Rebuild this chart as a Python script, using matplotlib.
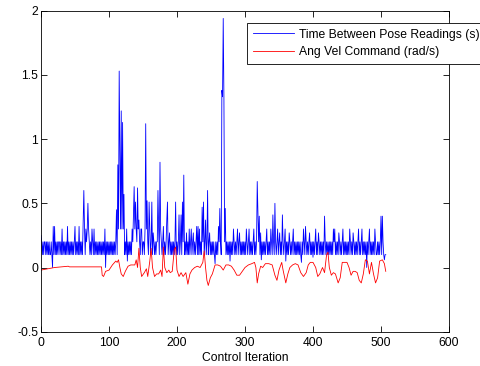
import matplotlib
matplotlib.use("Agg")
import matplotlib.pyplot as plt
import numpy as np

# Time between pose readings (s), one value per control iteration
pose_dt = [
    .25, .2, .1, .2, .1, .2, .2, .1, .2, .1, .2, .1, .2, .1, .1, .2, .1, .0, .32, .1,
    .32, .1, .2, .1, .2, .1, .2, .2, .1, .2, .1, .3, .1, .2, .1, .2, .1, .2, .1, .32,
    .1, .2, .1, .2, .1, .2, .1, .2, .1, .2, .32, .1, .2, .1, .2, .1, .32, .1, .2, .1,
    .2, .1, .35, .6, .3, .1, .3, .2, .3, .5, .3, .2, .1, .2, .1, .3, .2, .1, .3, .1,
    .2, .1, .2, .1, .2, .1, .2, .1, .2, .1, .2, .1, .2, .1, .3, .0, .2, .1, .2, .1,
    .2, .1, .2, .1, .2, .1, .2, .1, .2, .1, .2, .45, .1, .8, .3, 1.53, .91, .3, 1.22, .3,
    1.13, .3, .57, .1, .2, .1, .3, .05, .2, .1, .2, .1, .2, .1, .3, .2, .4, .63, .3, .51,
    .3, .2, .62, .3, .37, .2, .1, .3, .3, .1, .2, .2, .1, .3, 1.12, .3, .52, .2, .1, .51,
    .3, .1, .2, .51, .1, .27, .2, .1, .2, .1, .2, .2, .6, .3, .1, .82, .3, .2, .1, .2,
    .32, .1, .2, .1, .2, .37, .51, .1, .2, .27, .1, .2, .1, .2, .1, .2, .1, .2, .51, .1,
    .2, .1, .2, .41, .1, .2, .41, .1, .51, .2, .72, .1, .2, .1, .27, .1, .2, .1, .3, .1,
    .2, .3, .1, .2, .27, .1, .2, .1, .2, .32, .1, .32, .1, .3, .1, .2, .1, .47, .2, .51,
    .1, .2, .37, .1, .2, .6, .1, .2, .27, .1, .2, .1, .2, .1, .2, .1, .03, .2, .1, .2,
    .1, .32, .2, .46, .2, .1, 1.38, 1.33, 1.94, 1.33, .2, .46, .1, .2, .1, .2, .1, .2, .05, .2,
    .1, .2, .1, .3, .2, .1, .2, .1, .2, .3, .1, .2, .27, .1, .2, .1, .2, .1, .2, .1,
    .2, .1, .3, .2, .1, .2, .3, .1, .2, .1, .2, .1, .2, .3, .1, .2, .1, .2, .67, .45,
    .2, .4, .1, .27, .06, .2, .1, .2, .1, .2, .1, .2, .3, .1, .2, .1, .2, .1, .3, .2,
    .1, .41, .2, .1, .5, .2, .1, .2, .3, .1, .2, .27, .1, .2, .1, .41, .2, .1, .2, .3,
    .05, .2, .1, .2, .1, .27, .2, .1, .2, .1, .2, .3, .1, .2, .1, .2, .1, .2, .1, .2,
    .1, .2, .1, .04, .2, .1, .3, .2, .1, .32, .2, .1, .2, .1, .2, .27, .1, .2, .1, .2,
    .08, .2, .1, .2, .3, .1, .2, .1, .27, .2, .1, .2, .1, .2, .1, .2, .1, .4, .2, .1,
    .2, .1, .2, .1, .2, .1, .2, .1, .2, .1, .3, .2, .3, .1, .2, .1, .2, .1, .27, .2,
    .1, .2, .1, .2, .3, .1, .2, .1, .2, .1, .2, .1, .2, .1, .3, .2, .1, .2, .1, .27,
    .2, .1, .2, .1, .2, .1, .2, .3, .1, .2, .1, .2, .3, .1, .2, .1, .2, .1, .2, .0,
    .2, .1, .2, .3, .1, .2, .1, .2, .1, .2, .1, .3, .2, .1, .1, .2, .1, .2, .1, .2,
    .4, .1, .4, .2, .1, .06, .1, .1,
]

# Angular velocity command (rad/s), vertices
cmd_iter = [0, 10, 20, 40, 42, 60, 89, 90, 92, 95, 100, 105, 110, 112, 114, 116, 118, 121,
            124, 128, 132, 138, 140, 142, 144, 146, 148, 152, 155, 157, 160, 162, 164, 167,
            170, 173, 176, 178, 180, 182, 185, 188, 190, 193, 196, 198, 200, 203, 206, 209,
            213, 216, 219, 222, 226, 230, 234, 238, 240, 242, 244, 246, 249, 252, 256, 260,
            264, 268, 272, 276, 280, 284, 288, 292, 296, 300, 305, 310, 314, 316, 318, 320,
            323, 326, 330, 335, 340, 344, 347, 350, 354, 356, 360, 363, 366, 370, 374, 378,
            382, 386, 390, 393, 396, 400, 404, 407, 410, 414, 417, 420, 422, 424, 427, 430,
            433, 437, 440, 443, 446, 450, 453, 456, 459, 462, 465, 468, 471, 474, 477, 480,
            483, 486, 489, 492, 495, 498, 502, 505, 507]
ang_vel = [-.02, -.01, 0, .01, .005, .005, .005, -.06, -.07, -.03, -.02, .02, .05, .04, .06, 0,
           -.05, -.07, -.03, .01, .02, .02, .06, 0, .15, 0, -.07, -.04, -.01, -.07, .05, .15,
           0, -.07, -.05, -.05, -.02, -.07, .16, 0, -.04, -.02, -.04, -.03, .14, .16, -.02,
           -.07, -.04, -.07, -.04, -.13, -.05, -.02, 0, .01, 0, .04, .13, 0, -.1, -.14, -.08,
           -.05, .02, .02, .01, -.02, .02, .02, .01, -.02, -.06, -.06, -.03, 0, .02, .03,
           .04, 0, -.12, -.05, .01, 0, .03, .03, .02, -.06, -.1, -.02, .04, -.02, -.12, -.05,
           0, .02, .03, .02, -.04, -.07, -.04, .02, .04, .04, 0, -.07, -.05, 0, -.04, .1,
           .12, 0, -.06, -.04, -.05, -.12, -.08, .04, .04, .04, 0, -.06, -.03, -.03, -.04,
           -.1, -.12, -.05, .06, .05, -.05, .04, -.05, -.12, -.08, .05, .06, .03, -.03]

x_ticks = [0, 100, 200, 300, 400, 500, 600]
y_ticks = [-0.5, 0, 0.5, 1, 1.5, 2]
y_tick_labels = ["-0.5", "0", "0.5", "1", "1.5", "2"]

plt.rcParams["font.family"] = ["Liberation Sans", "DejaVu Sans"]
plt.rcParams["font.size"] = 8.7

fig = plt.figure(figsize=(4.8, 3.66), dpi=100)
ax = fig.add_axes([0.0854, 0.0937, 0.85, 0.877])

ax.plot(np.arange(len(pose_dt)), pose_dt, color=(0, 0, 1), linewidth=0.6,
        label="Time Between Pose Readings (s)")
ax.plot(cmd_iter, ang_vel, color=(1, 0, 0), linewidth=0.6,
        label="Ang Vel Command (rad/s)")

ax.set_xlim(0, 600)
ax.set_ylim(-0.5, 2)
ax.set_xticks(x_ticks)
ax.set_yticks(y_ticks)
ax.set_yticklabels(y_tick_labels)
ax.tick_params(direction="in", top=True, right=True, length=4, width=0.6)
ax.tick_params(axis="x", pad=4)
ax.tick_params(axis="y", pad=2)
for s in ax.spines.values():
    s.set_linewidth(0.6)
ax.set_xlabel("Control Iteration", labelpad=2)

leg = ax.legend(loc="upper left", bbox_to_anchor=(0.505, 0.963), borderaxespad=0,
                fancybox=False, framealpha=1, edgecolor="black", handlelength=3.4,
                handletextpad=0.4, borderpad=0.5, labelspacing=0.45)
leg.get_frame().set_linewidth(0.6)

fig.savefig("out.png", dpi=100)
